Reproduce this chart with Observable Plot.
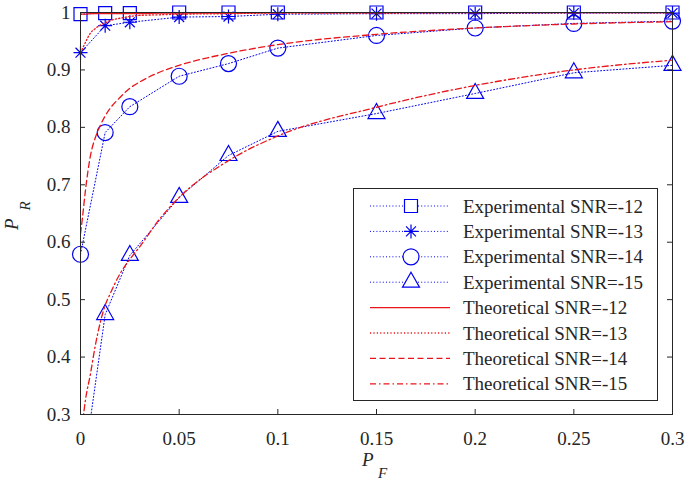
<!DOCTYPE html>
<html><head><meta charset="utf-8">
<script src="https://cdn.jsdelivr.net/npm/d3@7"></script>
<script src="https://cdn.jsdelivr.net/npm/@observablehq/plot@0.6"></script>
<style>html,body{margin:0;padding:0;background:#fff;} svg{display:block}</style>
</head><body><div id="chart"></div>
<script>
// ---- data ----
const pf = [0, 0.0125, 0.025, 0.05, 0.075, 0.1, 0.15, 0.2, 0.25, 0.3];
const exp12 = [0.997, 0.999, 0.999, 1, 1, 1, 1, 1, 1, 1];
const exp13 = [0.930, 0.977, 0.983, 0.992, 0.993, 0.997, 0.998, 0.998, 0.999, 0.999];
const exp14 = [0.579, 0.791, 0.836, 0.889, 0.911, 0.938, 0.960, 0.973, 0.981, 0.985];
const exp15 = [0.17, 0.474, 0.577, 0.678, 0.751, 0.793, 0.824, 0.859, 0.895, 0.908];

const thX  = [0, 0.001, 0.0025, 0.005, 0.0075, 0.01, 0.0125, 0.015, 0.02, 0.025, 0.03, 0.04, 0.05, 0.075, 0.1, 0.15, 0.2, 0.25, 0.3];
const th12 = [0.997, 0.997, 0.997, 0.998, 0.998, 0.998, 0.998, 0.998, 0.998, 0.998, 0.998, 0.999, 0.999, 0.999, 1, 1, 1, 1, 1];
const th13 = [0.930, 0.937, 0.948, 0.964, 0.972, 0.978, 0.982, 0.986, 0.990, 0.993, 0.995, 0.996, 0.997, 0.998, 0.999, 0.999, 1, 1, 1];
const th14 = [0.615, 0.643, 0.690, 0.750, 0.782, 0.803, 0.820, 0.833, 0.852, 0.868, 0.879, 0.896, 0.908, 0.929, 0.944, 0.962, 0.973, 0.980, 0.984];
const th15 = [0.26, 0.285, 0.325, 0.370, 0.420, 0.460, 0.490, 0.510, 0.545, 0.570, 0.592, 0.640, 0.678, 0.742, 0.785, 0.835, 0.873, 0.900, 0.917];

const xTicks = [0, 0.05, 0.1, 0.15, 0.2, 0.25, 0.3];
const xTickLabels = ["0", "0.05", "0.1", "0.15", "0.2", "0.25", "0.3"];
const yTicks = [0.3, 0.4, 0.5, 0.6, 0.7, 0.8, 0.9, 1];
const yTickLabels = ["0.3", "0.4", "0.5", "0.6", "0.7", "0.8", "0.9", "1"];

const legendLabels = ["Experimental SNR=-12", "Experimental SNR=-13", "Experimental SNR=-14", "Experimental SNR=-15",
                      "Theoretical SNR=-12", "Theoretical SNR=-13", "Theoretical SNR=-14", "Theoretical SNR=-15"];

// ---- styling ----
const W = 685, H = 483, mL = 80, mR = 13, mT = 12, mB = 69;
const iw = W - mL - mR, ih = H - mT - mB;
const BLUE = "#0000f0", RED = "#e8161b", INK = "#262626";
const FONT = "'Liberation Serif', 'Times New Roman', serif";

const sym = {
  square: {draw(c){ const s = 6.5; c.moveTo(-s,-s); c.lineTo(s,-s); c.lineTo(s,s); c.lineTo(-s,s); c.closePath(); }},
  star: {draw(c){ const s = 7, d = s*0.7071; c.moveTo(-s,0); c.lineTo(s,0); c.moveTo(0,-s); c.lineTo(0,s); c.moveTo(-d,-d); c.lineTo(d,d); c.moveTo(-d,d); c.lineTo(d,-d); }},
  circle: {draw(c){ c.moveTo(8,0); c.arc(0,0,8,0,2*Math.PI); c.closePath(); }},
  triangle: {draw(c){ c.moveTo(0,-10); c.lineTo(8.5,5); c.lineTo(-8.5,5); c.closePath(); }}
};

const rows = (xs, ys) => xs.map((x, i) => ({x, y: ys[i]}));
const expSeries = [
  {data: rows(pf, exp12), symbol: sym.square},
  {data: rows(pf, exp13), symbol: sym.star},
  {data: rows(pf, exp14), symbol: sym.circle},
  {data: rows(pf, exp15), symbol: sym.triangle}
];
const thSeries = [
  {data: rows(thX, th12), dash: null},
  {data: rows(thX, th13), dash: "1.2,2.2"},
  {data: rows(thX, th14), dash: "6,3.5"},
  {data: rows(thX, th15), dash: "6,3,1.5,3"}
];

const marks = [];
for (const s of expSeries) {
  marks.push(Plot.line(s.data, {x: "x", y: "y", stroke: BLUE, strokeWidth: 1, strokeDasharray: "1,2.2", clip: true}));
  marks.push(Plot.dot(s.data.filter(d => d.y >= 0.3), {x: "x", y: "y", symbol: s.symbol, r: 6, stroke: BLUE, fill: "none", strokeWidth: 1.2}));
}
for (const s of thSeries) {
  marks.push(Plot.line(s.data, {x: "x", y: "y", stroke: RED, strokeWidth: 1.3, strokeDasharray: s.dash, curve: "monotone-x", clip: true}));
}
// inward ticks on all four sides
marks.push(Plot.tickX(xTicks, {x: d => d, stroke: INK, insetBottom: ih - 5}));
marks.push(Plot.tickX(xTicks, {x: d => d, stroke: INK, insetTop: ih - 5}));
marks.push(Plot.tickY(yTicks, {y: d => d, stroke: INK, insetRight: iw - 5}));
marks.push(Plot.tickY(yTicks, {y: d => d, stroke: INK, insetLeft: iw - 5}));
marks.push(Plot.frame({stroke: INK, strokeWidth: 1}));
marks.push(Plot.axisX(xTicks, {tickSize: 0, tickPadding: 17, tickFormat: (d, i) => xTickLabels[i], label: null, fill: INK}));
marks.push(Plot.axisY(yTicks, {tickSize: 0, tickPadding: 10, tickFormat: (d, i) => yTickLabels[i], label: null, fill: INK}));

const chart = Plot.plot({
  width: W, height: H,
  marginLeft: mL, marginRight: mR, marginTop: mT, marginBottom: mB,
  style: {fontFamily: FONT, fontSize: "19px", background: "#fff", color: INK},
  x: {domain: [0, 0.3]},
  y: {domain: [0.3, 1]},
  marks
});
document.getElementById("chart").appendChild(chart);

// ---- axis titles and legend ----
const svg = d3.select(chart);
const yl = svg.append("text").attr("transform", "translate(17.5,230) rotate(-90)")
  .attr("text-anchor", "start").attr("font-family", FONT).attr("font-style", "italic").attr("fill", INK);
yl.append("tspan").attr("font-size", 19).text("P");
yl.append("tspan").attr("font-size", 15).attr("dx", 8).attr("dy", 12.5).text("R");
const xl = svg.append("text").attr("transform", "translate(362,466)")
  .attr("text-anchor", "start").attr("font-family", FONT).attr("font-style", "italic").attr("fill", INK);
xl.append("tspan").attr("font-size", 19).text("P");
xl.append("tspan").attr("font-size", 15).attr("dx", 4.4).attr("dy", 12).text("F");

const lg = svg.append("g").attr("text-anchor", "start");
lg.append("rect").attr("x", 353.5).attr("y", 188.5).attr("width", 304).attr("height", 212)
  .attr("fill", "#fff").attr("stroke", INK).attr("stroke-width", 1);
const rowY = i => 206 + i * 25.4;
legendLabels.forEach((lab, i) => {
  const y = rowY(i);
  if (i < 4) {
    lg.append("line").attr("x1", 370).attr("x2", 450).attr("y1", y).attr("y2", y)
      .attr("stroke", BLUE).attr("stroke-width", 1).attr("stroke-dasharray", "1,2.2");
    lg.append("path").attr("transform", `translate(411,${y})`)
      .attr("d", d3.symbol(expSeries[i].symbol, 64)())
      .attr("fill", "#fff").attr("stroke", BLUE).attr("stroke-width", 1.2);
  } else {
    const ln = lg.append("line").attr("x1", 370).attr("x2", 450).attr("y1", y).attr("y2", y)
      .attr("stroke", RED).attr("stroke-width", 1.3);
    if (thSeries[i - 4].dash) ln.attr("stroke-dasharray", thSeries[i - 4].dash);
  }
  lg.append("text").attr("x", 463).attr("y", y).attr("dy", "0.35em")
    .attr("font-family", FONT).attr("font-size", 19).attr("fill", INK).text(lab);
});
</script>
</body></html>
